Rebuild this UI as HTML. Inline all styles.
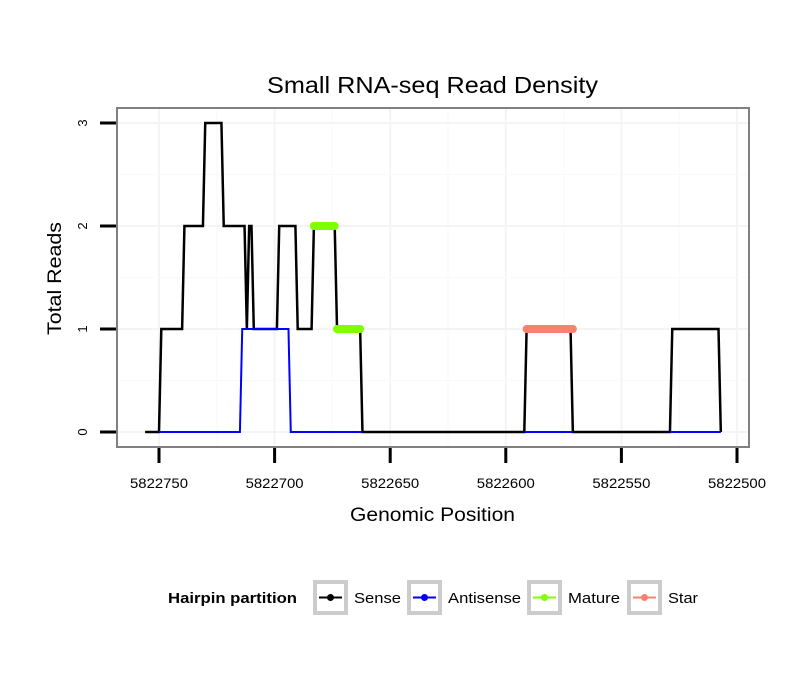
<!DOCTYPE html>
<html><head><meta charset="utf-8"><style>
body{margin:0;background:#fff;font-family:"Liberation Sans",sans-serif}
svg text{font-family:"Liberation Sans",sans-serif}
</style></head><body>
<svg width="810" height="690" xmlns="http://www.w3.org/2000/svg">
<text x="267" y="93" font-size="23" textLength="331" lengthAdjust="spacingAndGlyphs">Small RNA-seq Read Density</text>
<g id="grid"></g>
<g id="series"></g>
<rect x="117" y="108" width="632" height="339" fill="none" stroke="#808080" stroke-width="2"/>
<g id="axes"></g>
<text x="350" y="521" font-size="19" textLength="165" lengthAdjust="spacingAndGlyphs">Genomic Position</text>
<text transform="translate(61,335) rotate(-90)" font-size="19" textLength="113" lengthAdjust="spacingAndGlyphs">Total Reads</text>
<g>
<text x="168" y="603" font-size="15" font-weight="bold" textLength="129" lengthAdjust="spacingAndGlyphs">Hairpin partition</text>
<g id="legend"></g>
</g>
</svg>
<script>
const xTicks=[5822750,5822700,5822650,5822600,5822550,5822500];
const yTicks=[0,1,2,3];
const senseX=[5822756,5822750,5822749,5822740,5822739,5822731,5822730,5822723,5822722,5822713,5822712,5822711,5822710,5822709,5822699,5822698,5822691,5822690,5822684,5822683,5822674,5822673,5822663,5822662,5822592,5822591,5822572,5822571,5822529,5822528,5822508,5822507];
const senseY=[0,0,1,1,2,2,3,3,2,2,1,2,2,1,1,2,2,1,1,2,2,1,1,0,0,1,1,0,0,1,1,0];
const antiX=[[5822750,5822715,5822714,5822694,5822693,5822662],[5822592,5822571],[5822529,5822507]];
const antiY=[[0,0,1,1,0,0],[0,0],[0,0]];
const matureSeg=[[5822683,5822674,2],[5822673,5822663,1]];
const starSeg=[[5822591,5822571,1]];
const legendLabels=["Sense","Antisense","Mature","Star"];
const legendColors=["#000","#0000ff","#7fff00","#fa8072"];

const NS="http://www.w3.org/2000/svg";
const X=p=>159+(5822750-p)*2.312;
const Y=v=>432-v*103;
function mk(t,a,parent){const e=document.createElementNS(NS,t);for(const k in a)e.setAttribute(k,a[k]);parent.appendChild(e);return e;}
const grid=document.getElementById('grid'),ser=document.getElementById('series'),ax=document.getElementById('axes'),lg=document.getElementById('legend');
xTicks.forEach((t,i)=>{
 let l=mk('line',{x1:X(t),x2:X(t),y1:109,y2:446,stroke:'#f4f4f4','stroke-width':2},grid);
 
 if(i<xTicks.length-1){let m=mk('line',{x1:X(t-25),x2:X(t-25),y1:109,y2:446,stroke:'#f9f9f9','stroke-width':1},grid);
 }
 let tk=mk('line',{x1:X(t),x2:X(t),y1:448,y2:463,stroke:'#000','stroke-width':3},ax);
 
 let tx=mk('text',{x:X(t)-29,y:488,'font-size':14,textLength:58,lengthAdjust:'spacingAndGlyphs'},ax);tx.textContent=t;
 
});
yTicks.forEach((t,i)=>{
 let l=mk('line',{x1:118,x2:748,y1:Y(t),y2:Y(t),stroke:'#f4f4f4','stroke-width':2},grid);
 
 if(i<yTicks.length-1){let m=mk('line',{x1:118,x2:748,y1:Y(t+0.5),y2:Y(t+0.5),stroke:'#f9f9f9','stroke-width':1},grid);
 }
 let tk=mk('line',{x1:100,x2:116,y1:Y(t),y2:Y(t),stroke:'#000','stroke-width':3},ax);
 
 let tx=mk('text',{transform:`translate(87,${Y(t)}) rotate(-90)`,'text-anchor':'middle','font-size':13},ax);tx.textContent=t;
 
});
let sp=mk('polyline',{points:senseX.map((x,i)=>X(x)+','+Y(senseY[i])).join(' '),fill:'none',stroke:'#000','stroke-width':2.5},ser);

antiX.forEach((xs,j)=>{
 let p=mk('polyline',{points:xs.map((x,i)=>X(x)+','+Y(antiY[j][i])).join(' '),fill:'none',stroke:'#0000ff','stroke-width':2},ser);
 
});
matureSeg.forEach(s=>{
 let l=mk('line',{x1:X(s[0]),x2:X(s[1]),y1:Y(s[2]),y2:Y(s[2]),stroke:'#7fff00','stroke-width':8,'stroke-linecap':'round'},ser);
 
});
starSeg.forEach(s=>{
 let l=mk('line',{x1:X(s[0]),x2:X(s[1]),y1:Y(s[2]),y2:Y(s[2]),stroke:'#fa8072','stroke-width':8,'stroke-linecap':'round'},ser);
 
});
const lx=[315,409,529,629];
const lw=[47,73,52,30];
legendLabels.forEach((lab,i)=>{
 const x=lx[i];
 let g=mk('g',{},lg);
 
 mk('rect',{x:x,y:582,width:31,height:31,fill:'#fff',stroke:'#cccccc','stroke-width':4},g);
 mk('line',{x1:x+4,x2:x+27,y1:597.5,y2:597.5,stroke:legendColors[i],'stroke-width':2},g);
 mk('circle',{cx:x+15.5,cy:597.5,r:3.5,fill:legendColors[i]},g);
 let t=mk('text',{x:x+39,y:603,'font-size':15,textLength:lw[i],lengthAdjust:'spacingAndGlyphs'},g);t.textContent=lab;
});
</script>
</body></html>
